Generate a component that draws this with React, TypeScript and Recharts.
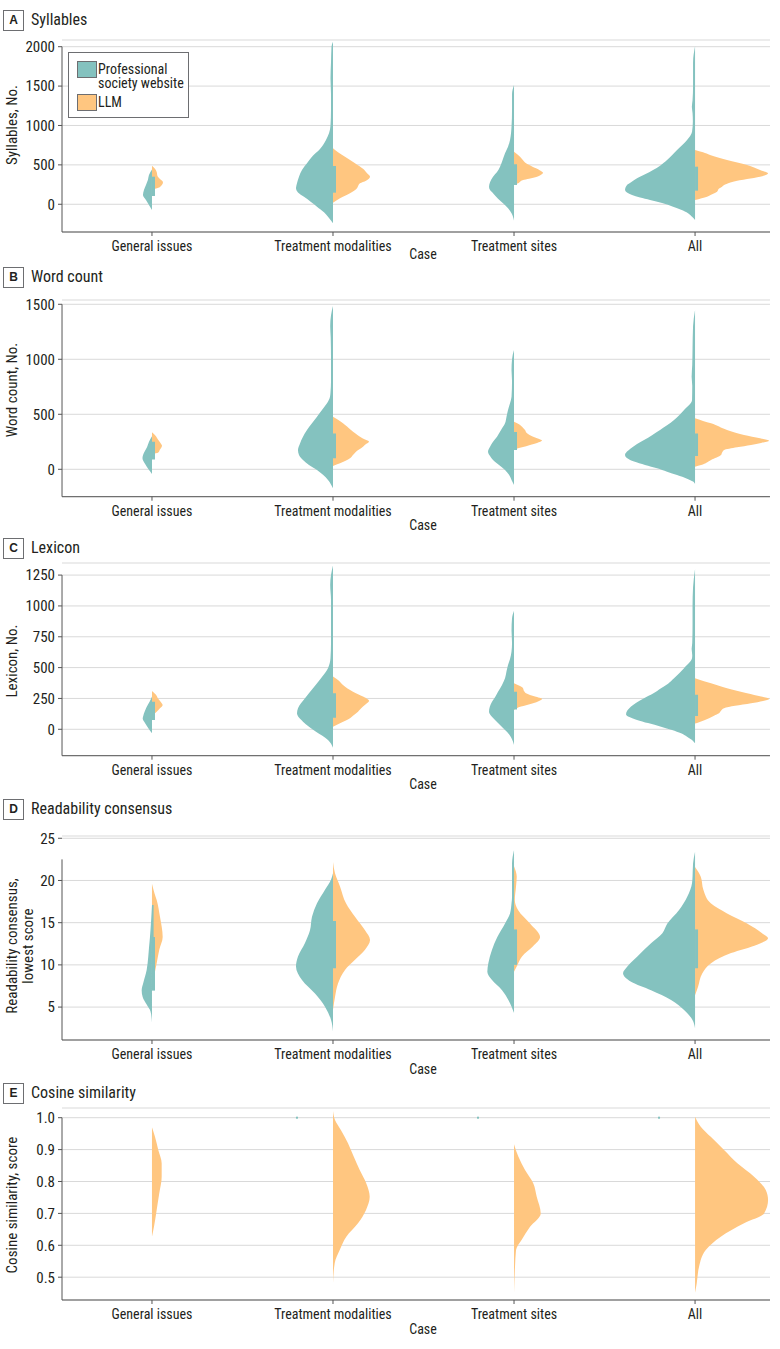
import React from 'react';
import { ScatterChart, Scatter, XAxis, YAxis, CartesianGrid, ReferenceLine } from 'recharts';

// ---------- categories & styles ----------
const CASES = ['General issues', 'Treatment modalities', 'Treatment sites', 'All'];
const PRO_COLOR = '#84c2bf';
const LLM_COLOR = '#ffc680';
const FONT = "'Liberation Sans Narrow', 'Roboto Condensed', 'DejaVu Sans Condensed', 'Liberation Sans', sans-serif";
const TEXT = '#231f20';
const AXIS = '#555555';
const GRID = '#d9d9d9';

type Profile = [number, number][]; // [value, density(half width)]

// ---------- A: Syllables ----------
const SYLL_TICKS = [0, 500, 1000, 1500, 2000];
const syllGenPro: Profile = [[440, 0], [370, 3], [310, 4], [245, 6], [180, 8], [118, 9], [55, 6], [-10, 3], [-72, 0]];
const syllGenLlm: Profile = [[490, 0], [450, 3], [410, 4.7], [360, 5.5], [320, 8], [280, 11], [220, 8], [200, 4], [180, 0]];
const syllTmodPro: Profile = [[2063, 0], [2000, 1.5], [1800, 2], [1600, 2.5], [1400, 2], [1200, 2], [1000, 2.5], [900, 4], [816, 7], [700, 13], [604, 21], [520, 26], [435, 31], [350, 34], [266, 36], [205, 37], [150, 35], [96, 29], [30, 22], [-30, 16], [-100, 9], [-157, 5], [-241, 0]];
const syllTmodLlm: Profile = [[710, 0], [660, 5], [604, 12], [520, 22], [450, 30], [393, 34], [350, 37], [300, 33], [266, 27], [230, 25], [203, 24], [140, 17], [76, 7], [20, 0]];
const syllSitesPro: Profile = [[1513, 0], [1400, 2], [1200, 2], [985, 2.5], [900, 3], [816, 4], [730, 6], [647, 9], [560, 11.5], [477, 14], [410, 17], [350, 21], [280, 24], [223, 25], [180, 24], [140, 21], [70, 16], [13, 11], [-50, 6], [-114, 2.5], [-208, 0]];
const syllSitesLlm: Profile = [[668, 0], [604, 6], [560, 9], [520, 12], [480, 18], [457, 22], [430, 26], [401, 29], [375, 27], [350, 23], [325, 15], [308, 9], [266, 4], [245, 0]];
const syllAllPro: Profile = [[2005, 0], [1800, 2], [1500, 2], [1320, 2.5], [1239, 3.2], [1160, 2.5], [1050, 2.2], [921, 3], [816, 8], [689, 18], [562, 28], [490, 35], [435, 42], [380, 50], [330, 58], [280, 64], [245, 68], [181, 70], [118, 63], [85, 55], [55, 45], [15, 33], [-30, 22], [-70, 14], [-114, 7], [-160, 3], [-199, 0]];
const syllAllLlm: Profile = [[689, 0], [660, 8], [626, 15], [562, 32], [499, 52], [435, 65], [393, 73], [350, 65], [320, 52], [287, 38], [250, 30], [223, 27], [200, 24], [160, 22], [120, 16], [96, 12], [55, 0]];
const syllBoxes: [number, number][] = [[105, 350], [147, 486], [245, 508], [173, 477]];

// ---------- B: Word count ----------
const WORD_TICKS = [0, 500, 1000, 1500];
const wordGenPro: Profile = [[300, 0], [250, 3], [200, 5], [150, 8], [100, 9.5], [50, 7], [0, 3.5], [-43, 0]];
const wordGenLlm: Profile = [[336, 0], [300, 4], [270, 6], [240, 8.5], [215, 10], [180, 8], [150, 6], [139, 0]];
const wordTmodPro: Profile = [[1484, 0], [1400, 2], [1300, 2.8], [1200, 2.3], [1000, 2], [800, 2], [700, 2.5], [660, 3], [600, 6], [539, 11], [478, 16], [418, 21], [357, 26], [296, 30], [235, 33], [175, 35], [130, 34], [85, 30], [40, 24], [-6, 16], [-50, 10], [-97, 5], [-173, 0]];
const wordTmodLlm: Profile = [[478, 0], [450, 5], [418, 10], [357, 18], [296, 27], [270, 32], [251, 36], [230, 33], [206, 30], [180, 26], [160, 23], [130, 20], [100, 17], [55, 7], [30, 0]];
const wordSitesPro: Profile = [[1084, 0], [1000, 2], [900, 2.5], [800, 2], [660, 2.5], [600, 4], [539, 6], [478, 7.5], [418, 9], [357, 13], [296, 17], [250, 21], [206, 24], [160, 26], [120, 24], [85, 21], [40, 15], [-6, 9], [-50, 5], [-97, 2.5], [-143, 0]];
const wordSitesLlm: Profile = [[433, 0], [410, 5], [387, 8], [357, 11], [327, 13], [300, 18], [282, 23], [261, 28], [240, 23], [221, 16], [200, 8], [191, 4], [175, 0]];
const wordAllPro: Profile = [[1448, 0], [1300, 2], [1100, 2.5], [950, 2.8], [842, 3.4], [760, 2.8], [630, 3], [539, 11], [448, 21], [400, 28], [357, 35], [310, 43], [266, 51], [230, 58], [191, 64], [130, 70], [70, 61], [40, 50], [9, 38], [-22, 28], [-52, 18], [-85, 8], [-112, 2], [-134, 0]];
const wordAllLlm: Profile = [[463, 0], [440, 8], [418, 16], [357, 32], [312, 49], [282, 65], [260, 74], [240, 66], [221, 56], [200, 42], [175, 29], [150, 27], [130, 26], [85, 16], [39, 6], [24, 0]];
const wordBoxes: [number, number][] = [[90, 250], [100, 325], [175, 340], [120, 325]];

// ---------- C: Lexicon ----------
const LEX_TICKS = [0, 250, 500, 750, 1000, 1250];
const lexGenPro: Profile = [[265, 0], [230, 2], [200, 4], [150, 7], [100, 9], [89, 9.3], [50, 7], [0, 3], [-33, 0]];
const lexGenLlm: Profile = [[311, 0], [280, 4], [250, 6], [220, 9], [197, 10.7], [170, 8], [143, 4.7], [110, 0]];
const lexTmodPro: Profile = [[1328, 0], [1250, 2], [1170, 2.8], [1050, 2], [900, 2], [700, 2], [577, 2.5], [495, 5], [414, 12], [333, 20], [252, 28], [170, 35], [130, 36], [62, 30], [20, 24], [-19, 17], [-50, 11], [-87, 5], [-149, 0]];
const lexTmodLlm: Profile = [[427, 0], [400, 5], [360, 10], [305, 20], [265, 30], [230, 36], [205, 33], [184, 30], [160, 27], [143, 25], [110, 20], [89, 17], [49, 7], [21, 0]];
const lexSitesPro: Profile = [[961, 0], [900, 2], [800, 2.5], [700, 2], [630, 2.5], [570, 4], [522, 6], [470, 7.5], [414, 9], [360, 12], [305, 16], [260, 19], [224, 22], [143, 25], [110, 23], [76, 19], [35, 14], [-6, 9], [-40, 5], [-73, 2.5], [-127, 0]];
const lexSitesLlm: Profile = [[373, 0], [350, 6], [333, 9], [310, 10], [292, 12], [265, 21], [246, 28], [230, 25], [211, 19], [195, 12], [184, 7], [157, 0]];
const lexAllPro: Profile = [[1299, 0], [1150, 2], [1000, 2.5], [850, 2.5], [700, 2.8], [650, 3.4], [600, 2.8], [577, 3], [495, 11], [414, 21], [370, 27], [333, 34], [290, 42], [252, 51], [220, 58], [184, 64], [122, 69], [76, 58], [50, 47], [21, 34], [-6, 23], [-33, 14], [-60, 8], [-87, 3], [-114, 0]];
const lexAllLlm: Profile = [[414, 0], [390, 9], [373, 16], [333, 32], [292, 52], [265, 66], [246, 74], [230, 68], [211, 56], [190, 40], [170, 29], [150, 26], [130, 24], [110, 19], [89, 14], [57, 4], [46, 0]];
const lexBoxes: [number, number][] = [[76, 224], [94, 292], [160, 305], [108, 279]];

// ---------- D: Readability consensus ----------
const READ_TICKS = [5, 10, 15, 20, 25];
const readGenPro: Profile = [[17.1, 0], [15, 1], [13.3, 2], [12, 3], [11, 3.7], [9.4, 5.3], [7.85, 8.7], [7, 10.3], [6.2, 9.3], [5.3, 5.3], [4.5, 1.5], [3.15, 0]];
const readGenLlm: Profile = [[19.6, 0], [18.5, 2.5], [17.7, 4.7], [15.7, 8], [13.3, 10.7], [11.8, 7.3], [10.2, 4.7], [8.6, 2], [7.4, 0]];
const readTmodPro: Profile = [[20.85, 0], [20.1, 2], [18.9, 8], [17.3, 16], [15.7, 21], [14.1, 23], [12.6, 28], [11.0, 35], [9.8, 37], [8.2, 31], [6.6, 18], [5.05, 8], [3.5, 2], [2.1, 0]];
const readTmodLlm: Profile = [[22.2, 0], [20.85, 2], [19.3, 7], [17.3, 13], [15.7, 22], [14.1, 32], [12.95, 37], [11.8, 32], [10.6, 22], [9.4, 12], [7.8, 5], [6.2, 2], [4.65, 0]];
const readSitesPro: Profile = [[23.6, 0], [22, 2], [20, 2], [18, 2], [17.3, 2.5], [16.1, 4], [14.9, 9], [13.3, 16.7], [11.8, 22], [10.2, 25.7], [9.2, 26.7], [8.2, 22], [7.0, 12], [5.85, 5.7], [4.3, 0]];
const readSitesLlm: Profile = [[21.7, 0], [20.45, 2.7], [19.3, 2], [17.7, 0.8], [16.5, 4], [14.9, 16], [13.3, 26], [12.2, 19], [11.0, 8], [9.8, 2.7], [9.2, 0]];
const readAllPro: Profile = [[23.4, 0], [22, 2], [20.5, 2.5], [19.7, 3], [18.1, 7.7], [16.5, 16], [14.9, 27.7], [13.75, 32.7], [12.55, 44], [11.0, 57.7], [9.8, 67.7], [9.0, 72], [8.0, 64], [7.0, 44], [5.85, 24], [4.65, 11], [3.5, 2.7], [2.5, 0]];
const readAllLlm: Profile = [[21.6, 0], [20.45, 5.7], [18.9, 8.3], [17.3, 15.7], [16.1, 32], [14.9, 52], [13.75, 67], [13.15, 73], [12.4, 62], [11.4, 36], [10.2, 16], [9.0, 7.3], [7.4, 3], [6.4, 0]];
const readBoxes: [number, number][] = [[6.95, 13.3], [9.6, 15.2], [10.0, 14.2], [9.6, 14.2]];
const readWhiskers: ([number, number] | null)[] = [[13.3, 17.1], null, null, null];

// ---------- E: Cosine similarity ----------
const COS_TICKS = [0.5, 0.6, 0.7, 0.8, 0.9, 1.0];
const cosGenLlm: Profile = [[0.97, 0], [0.94, 3], [0.899, 6.3], [0.857, 9.7], [0.815, 9.7], [0.763, 7.3], [0.711, 4.7], [0.658, 2], [0.627, 0]];
const cosTmodLlm: Profile = [[1.021, 0], [0.993, 2], [0.961, 8], [0.92, 15], [0.878, 20.7], [0.836, 26.7], [0.794, 33.3], [0.752, 36.7], [0.711, 33], [0.669, 25], [0.627, 13.3], [0.585, 6.7], [0.544, 1.7], [0.481, 0]];
const cosSitesLlm: Profile = [[0.917, 0], [0.878, 4.3], [0.836, 11], [0.794, 19.3], [0.752, 22.7], [0.7, 26.7], [0.658, 16], [0.617, 7.7], [0.585, 2], [0.533, 1], [0.451, 0]];
const cosAllLlm: Profile = [[1.003, 0], [0.972, 5.7], [0.94, 15.7], [0.899, 29], [0.857, 42.3], [0.815, 59], [0.773, 70.7], [0.742, 73], [0.7, 69], [0.669, 49], [0.627, 25.7], [0.585, 10.7], [0.533, 4], [0.481, 1.7], [0.451, 0]];
const cosProValues: (number | null)[] = [null, 1.0, 1.0, 1.0]; // professional text vs itself

// ---------- geometry helpers ----------
const X_DOMAIN: [number, number] = [0.503, 4.414];
const DENSITY_SCALE = 1 / 181;
const BOX_W = 0.0166;
const WHISKER_W = 0.009;
const DEGEN_OFFSET = -0.199;

const halfViolin = (center: number, prof: Profile, side: number) =>
  [...prof].sort((a, b) => a[0] - b[0]).map(([v, d]) => ({ x: center + side * d * DENSITY_SCALE, y: v }));
const boxPoly = (center: number, [q1, q3]: [number, number], w: number) => [
  { x: center, y: q1 }, { x: center, y: q3 }, { x: center + w, y: q3 }, { x: center + w, y: q1 },
];

const renderNone = () => null;
const renderDot = (p: any) => <rect x={p.cx - 1} y={p.cy - 1} width={2} height={2} fill={PRO_COLOR} />;

type PanelCfg = {
  letter: string; title: string; yLabel: string[];
  ticks: number[]; domain: [number, number]; spineTop: number; decimals: number;
  pro: (Profile | null)[]; llm: Profile[]; boxes: [number, number][] | null;
  whiskers?: ([number, number] | null)[]; degen?: (number | null)[];
  plotTop: number; plotBottom: number; titleY: number; caseY: number; yLabelX: number; yLabelY: number;
};

const PANELS: PanelCfg[] = [
  { letter: 'A', title: 'Syllables', yLabel: ['Syllables, No.'], ticks: SYLL_TICKS, domain: [-352, 2085], spineTop: 2000, decimals: 0,
    pro: [syllGenPro, syllTmodPro, syllSitesPro, syllAllPro], llm: [syllGenLlm, syllTmodLlm, syllSitesLlm, syllAllLlm], boxes: syllBoxes,
    plotTop: 40, plotBottom: 232, titleY: 20, caseY: 254, yLabelX: 12, yLabelY: 125 },
  { letter: 'B', title: 'Word count', yLabel: ['Word count, No.'], ticks: WORD_TICKS, domain: [-249, 1539], spineTop: 1500, decimals: 0,
    pro: [wordGenPro, wordTmodPro, wordSitesPro, wordAllPro], llm: [wordGenLlm, wordTmodLlm, wordSitesLlm, wordAllLlm], boxes: wordBoxes,
    plotTop: 300, plotBottom: 496.7, titleY: 277, caseY: 525, yLabelX: 12, yLabelY: 390 },
  { letter: 'C', title: 'Lexicon', yLabel: ['Lexicon, No.'], ticks: LEX_TICKS, domain: [-214, 1348], spineTop: 1250, decimals: 0,
    pro: [lexGenPro, lexTmodPro, lexSitesPro, lexAllPro], llm: [lexGenLlm, lexTmodLlm, lexSitesLlm, lexAllLlm], boxes: lexBoxes,
    plotTop: 563, plotBottom: 755.7, titleY: 548, caseY: 784, yLabelX: 12, yLabelY: 661 },
  { letter: 'D', title: 'Readability consensus', yLabel: ['Readability consensus,', 'lowest score'], ticks: READ_TICKS, domain: [1.1, 25.27], spineTop: 22.5, decimals: 0,
    pro: [readGenPro, readTmodPro, readSitesPro, readAllPro], llm: [readGenLlm, readTmodLlm, readSitesLlm, readAllLlm], boxes: readBoxes, whiskers: readWhiskers,
    plotTop: 836, plotBottom: 1040, titleY: 809, caseY: 1069, yLabelX: 20, yLabelY: 946 },
  { letter: 'E', title: 'Cosine similarity', yLabel: ['Cosine similarity, score'], ticks: COS_TICKS, domain: [0.4285, 1.0304], spineTop: 1.0, decimals: 1,
    pro: [null, null, null, null], llm: [cosGenLlm, cosTmodLlm, cosSitesLlm, cosAllLlm], boxes: null, degen: cosProValues,
    plotTop: 1108, plotBottom: 1300, titleY: 1093, caseY: 1329, yLabelX: 12, yLabelY: 1205 },
];

const X_AXIS_H = 30;
const TOP_PAD = 30;

function Panel({ cfg }: { cfg: PanelCfg }) {
  const chartTop = cfg.plotTop - TOP_PAD;
  const height = cfg.plotBottom - chartTop + X_AXIS_H;
  const series: React.ReactNode[] = [];
  cfg.llm.forEach((prof, i) => {
    series.push(
      <Scatter key={'llm' + i} data={halfViolin(i + 1, prof, 1)} fill={LLM_COLOR}
        line={{ fill: LLM_COLOR, stroke: 'none' }} lineJointType="monotoneY" shape={renderNone}
        isAnimationActive={false} legendType="none" />
    );
  });
  cfg.pro.forEach((prof, i) => {
    if (!prof) return;
    series.push(
      <Scatter key={'pro' + i} data={halfViolin(i + 1, prof, -1)} fill={PRO_COLOR}
        line={{ fill: PRO_COLOR, stroke: 'none' }} lineJointType="monotoneY" shape={renderNone}
        isAnimationActive={false} legendType="none" />
    );
  });
  (cfg.boxes || []).forEach((b, i) => {
    series.push(
      <Scatter key={'box' + i} data={boxPoly(i + 1, b, BOX_W)} fill={PRO_COLOR}
        line={{ fill: PRO_COLOR, stroke: 'none' }} lineJointType="linear" shape={renderNone}
        isAnimationActive={false} legendType="none" />
    );
  });
  (cfg.whiskers || []).forEach((w, i) => {
    if (!w) return;
    series.push(
      <Scatter key={'wh' + i} data={boxPoly(i + 1, w, WHISKER_W)} fill={PRO_COLOR}
        line={{ fill: PRO_COLOR, stroke: 'none' }} lineJointType="linear" shape={renderNone}
        isAnimationActive={false} legendType="none" />
    );
  });
  if (cfg.degen) {
    const pts = cfg.degen.map((v, i) => (v == null ? null : { x: i + 1 + DEGEN_OFFSET, y: v })).filter(Boolean) as { x: number; y: number }[];
    series.push(<Scatter key="degen" data={pts} fill={PRO_COLOR} shape={renderDot} isAnimationActive={false} legendType="none" />);
  }

  return (
    <div style={{ position: 'absolute', left: 0, top: chartTop }}>
      <ScatterChart width={780} height={height} margin={{ top: TOP_PAD, right: 10, bottom: 0, left: 0 }}>
        <CartesianGrid vertical={false} stroke={GRID} strokeWidth={1} />
        <XAxis type="number" dataKey="x" domain={X_DOMAIN} ticks={[1, 2, 3, 4]} interval={0} allowDataOverflow
          tickFormatter={(v: number) => CASES[Math.round(v) - 1]} height={X_AXIS_H}
          axisLine={{ stroke: AXIS }} tickLine={{ stroke: AXIS }} tickSize={4} tickMargin={5}
          tick={{ fill: TEXT, fontSize: 14, fontFamily: FONT }} />
        <YAxis type="number" dataKey="y" domain={cfg.domain} ticks={cfg.ticks} interval={0} allowDataOverflow width={62}
          tickFormatter={(v: number) => v.toFixed(cfg.decimals)}
          axisLine={false} tickLine={{ stroke: AXIS }} tickSize={4} tickMargin={3}
          tick={{ fill: TEXT, fontSize: 15, fontFamily: FONT }} />
        <ReferenceLine segment={[{ x: X_DOMAIN[0], y: cfg.spineTop }, { x: X_DOMAIN[0], y: cfg.domain[0] }]}
          stroke={AXIS} strokeWidth={1} ifOverflow="visible" />
        {series}
      </ScatterChart>
    </div>
  );
}

function Overlay({ cfg }: { cfg: PanelCfg }) {
  return (
    <>
      <div style={{ position: 'absolute', left: 3, top: cfg.titleY - 10, width: 19, height: 19, border: '1px solid #6d6e71',
        fontFamily: "'Liberation Sans', Arial, sans-serif", fontWeight: 700, fontSize: 12, lineHeight: '19px', textAlign: 'center', color: TEXT, background: '#fff' }}>
        {cfg.letter}
      </div>
      <div style={{ position: 'absolute', left: 31, top: cfg.titleY - 10, height: 20, lineHeight: '20px', fontFamily: FONT, fontSize: 16, color: TEXT, whiteSpace: 'nowrap' }}>
        {cfg.title}
      </div>
      <div style={{ position: 'absolute', left: cfg.yLabelX, top: cfg.yLabelY, transform: 'translate(-50%, -50%) rotate(-90deg)',
        fontFamily: FONT, fontSize: 15, lineHeight: '16px', color: TEXT, whiteSpace: 'nowrap', textAlign: 'center' }}>
        {cfg.yLabel.map((l, i) => <div key={i}>{l}</div>)}
      </div>
      <div style={{ position: 'absolute', left: 423, top: cfg.caseY, transform: 'translate(-50%, -50%)',
        fontFamily: FONT, fontSize: 14, lineHeight: '16px', color: TEXT, whiteSpace: 'nowrap' }}>
        Case
      </div>
    </>
  );
}

function LegendBox() {
  const sw = (color: string, top: number) => (
    <div style={{ position: 'absolute', left: 8, top, width: 18, height: 15, background: color, border: '1px solid #6d6e71' }} />
  );
  return (
    <div style={{ position: 'absolute', left: 68, top: 52, width: 119, height: 64, border: '1px solid #6d6e71', background: '#fff',
      fontFamily: FONT, fontSize: 14, color: TEXT }}>
      {sw(PRO_COLOR, 8)}
      <div style={{ position: 'absolute', left: 29, top: 9, lineHeight: '14px', whiteSpace: 'nowrap' }}>Professional</div>
      <div style={{ position: 'absolute', left: 29, top: 23, lineHeight: '14px', whiteSpace: 'nowrap' }}>society website</div>
      {sw(LLM_COLOR, 41)}
      <div style={{ position: 'absolute', left: 29, top: 42, lineHeight: '14px', whiteSpace: 'nowrap' }}>LLM</div>
    </div>
  );
}

export default function App() {
  return (
    <div style={{ position: 'absolute', left: 0, top: 0, width: 780, height: 1349, background: '#fff', overflow: 'hidden' }}>
      {PANELS.map((p) => <Panel key={p.letter} cfg={p} />)}
      {PANELS.map((p) => <Overlay key={'o' + p.letter} cfg={p} />)}
      <LegendBox />
    </div>
  );
}
